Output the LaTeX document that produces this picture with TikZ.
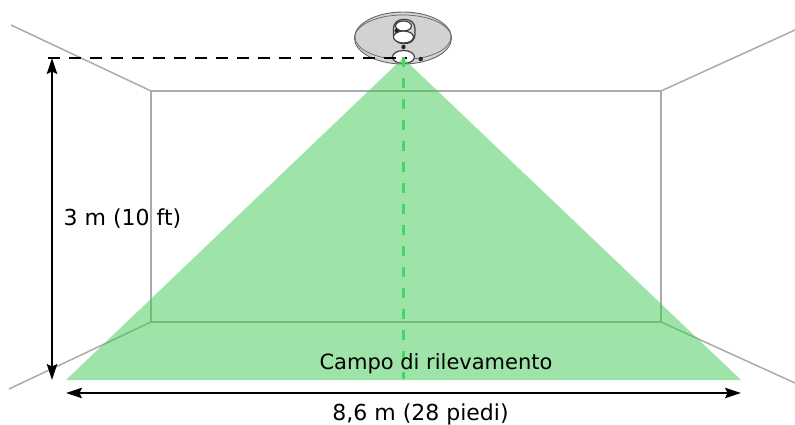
\documentclass[tikz,border=0pt]{standalone}
\usepackage{fontspec}
\setmainfont{DejaVu Sans}
\usetikzlibrary{arrows.meta}
\definecolor{wall}{HTML}{ABABAB}
\definecolor{beam}{HTML}{3DC951}
\definecolor{dashgreen}{HTML}{44D668}
\definecolor{plate}{HTML}{D2D2D2}
\tikzset{
 wallline/.style={draw=wall,line width=1.5},
 dim/.style={draw=black,line width=1.2,{Stealth[length=16,width=10.5,inset=2.5]}-{Stealth[length=16,width=10.5,inset=2.5]}},
 lbl/.style={inner sep=0pt,font=\fontsize{22}{26}\selectfont,text=black},
 partline/.style={draw=black!75,line width=1.2,fill=white}
}
\begin{document}
\begin{tikzpicture}[x=1pt,y=-1pt]
\useasboundingbox (0,0) rectangle (795,425);
\coordinate (tl) at (151,91); \coordinate (tr) at (661,91);
\coordinate (br) at (661,322); \coordinate (bl) at (151,322);
\coordinate (otl) at (11,25); \coordinate (otr) at (795,30);
\coordinate (obl) at (9,389); \coordinate (obr) at (795,383);
\draw[wallline] (tl) -- (tr) -- (br) -- (bl) -- cycle;
\draw[wallline] (otl) -- (tl) (otr) -- (tr) (obl) -- (bl) (obr) -- (br);
% sensor
\draw[draw=black!60,line width=.9,fill=plate] (403,38) ellipse[x radius=48.5,y radius=26];
\draw[draw=black!60,line width=.7] (354.5,38) arc[start angle=180,end angle=360,x radius=48.5,y radius=23];
\draw[draw=black!60,line width=.7] (355,37) arc[start angle=180,end angle=0,x radius=48,y radius=22.5];
\draw[partline,fill=plate,rounded corners=9] (393.5,19.5) rectangle (415,43.5);
\draw[partline] (403.5,26) ellipse[x radius=8,y radius=5];
\draw[partline] (403.5,37) ellipse[x radius=10,y radius=6];
\fill[black!85] (396.7,30.7) circle[radius=2.2];
\fill[black!85] (403.5,47) circle[radius=2.2];
\fill[black!85] (420.7,59) circle[radius=2.2];
\draw[partline] (403.5,57) ellipse[x radius=11,y radius=6.5];
% beam
\coordinate (apex) at (403,58); \coordinate (bbl) at (66,380); \coordinate (bbr) at (741,380);
\fill[beam,opacity=.5] (apex) -- (bbr) -- (bbl) -- cycle;
% dashes
\coordinate (dimtop) at (52,58); \coordinate (dimbot) at (52,380);
\coordinate (dashend) at (407,58);
\draw[black,line width=1.1,dash pattern=on 12 off 9] (48,58) -- (dashend);
\draw[dashgreen,line width=2.5,dash pattern=on 10 off 11] (403.5,57) -- (403.5,379);
\draw[dim] (dimbot) -- (dimtop);
\coordinate (wl) at (66,393); \coordinate (wr) at (741,393);
\draw[dim] (wl) -- (wr);
\node[lbl] (h) at (122.5,219) {3 m (10 ft)};
\node[lbl,font=\fontsize{21}{26}\selectfont] (c) at (436,364) {Campo di rilevamento};
\node[lbl] (w) at (420.5,414) {8,6 m (28 piedi)};
\end{tikzpicture}
\end{document}
